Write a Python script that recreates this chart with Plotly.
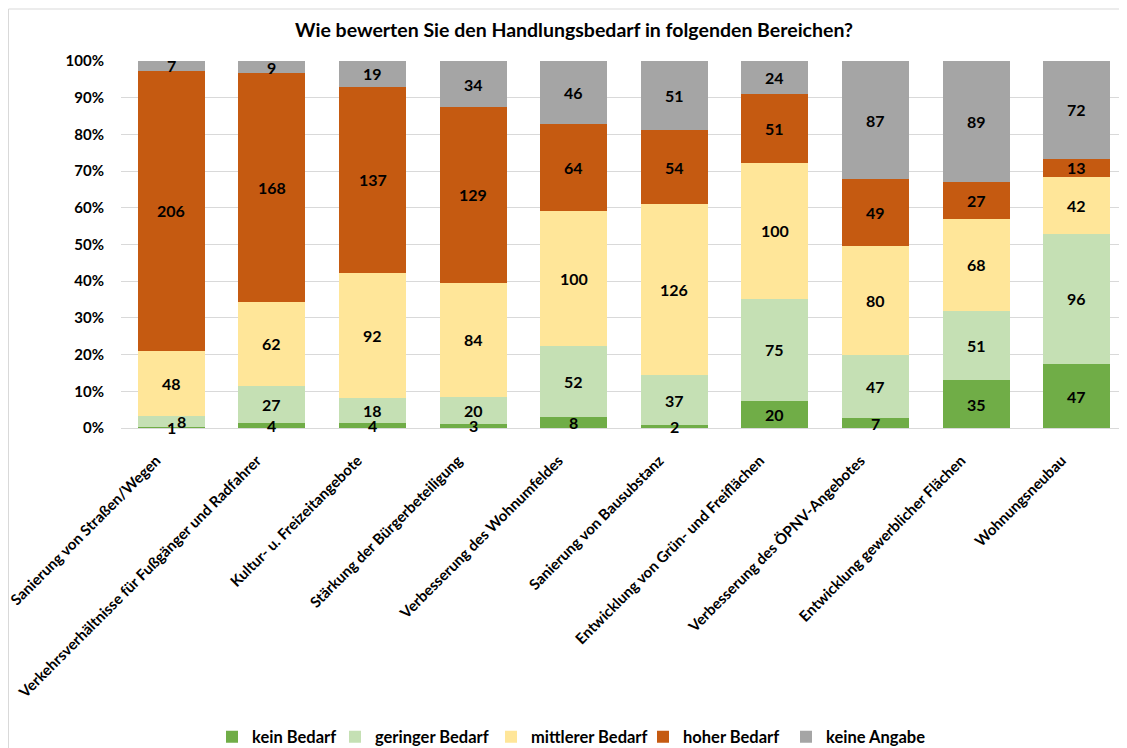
import plotly.graph_objects as go

categories = [
    "Sanierung von Straßen/Wegen",
    "Verkehrsverhältnisse für Fußgänger und Radfahrer",
    "Kultur- u. Freizeitangebote",
    "Stärkung der Bürgerbeteiligung",
    "Verbesserung des Wohnumfeldes",
    "Sanierung von Bausubstanz",
    "Entwicklung von Grün- und Freiflächen",
    "Verbesserung des ÖPNV-Angebotes",
    "Entwicklung gewerblicher Flächen",
    "Wohnungsneubau",
]
kein_bedarf = [1, 4, 4, 3, 8, 2, 20, 7, 35, 47]
geringer_bedarf = [8, 27, 18, 20, 52, 37, 75, 47, 51, 96]
mittlerer_bedarf = [48, 62, 92, 84, 100, 126, 100, 80, 68, 42]
hoher_bedarf = [206, 168, 137, 129, 64, 54, 51, 49, 27, 13]
keine_angabe = [7, 9, 19, 34, 46, 51, 24, 87, 89, 72]
series_names = ["kein Bedarf", "geringer Bedarf", "mittlerer Bedarf", "hoher Bedarf", "keine Angabe"]
y_ticks = [0, 10, 20, 30, 40, 50, 60, 70, 80, 90, 100]

series = [kein_bedarf, geringer_bedarf, mittlerer_bedarf, hoher_bedarf, keine_angabe]
colors = ["#70AD47", "#C5E0B4", "#FFE699", "#C55A11", "#A5A5A5"]
legend_widths = [78, 111, 107, 98, 108]
FONT = "Lato"

# figure is placed by the page 8px from the top-left corner
W, H = 1119, 740
L, T, B, R = 113, 53, 320, 0
PW, PH = W - L - R, H - T - B

fig = go.Figure()
for name, vals, col, lw in zip(series_names, series, colors, legend_widths):
    fig.add_trace(go.Bar(
        x=categories, y=vals, name=name,
        marker=dict(color=col, line=dict(width=0)),
        legendwidth=lw,
        hoverinfo="x+y+name",
    ))

# data labels as annotations at segment midpoints
totals = [sum(s[i] for s in series) for i in range(len(categories))]
shifts = {(0, 1): (10, 0)}
annotations = []
for i, cat in enumerate(categories):
    cum = 0
    for k, vals in enumerate(series):
        v = vals[i]
        mid = (cum + v / 2) / totals[i] * 100
        cum += v
        xs, ys = shifts.get((i, k), (0, 0))
        annotations.append(dict(
            x=cat, y=mid, xref="x", yref="y", text=str(v),
            showarrow=False, xshift=xs, yshift=ys,
            font=dict(family=FONT, size=16, color="#000000", weight="bold"),
        ))

fig.update_layout(
    width=W, height=H,
    barmode="stack", barnorm="percent", bargap=0.335,
    plot_bgcolor="white", paper_bgcolor="white",
    margin=dict(l=L, r=R, t=T, b=B, autoexpand=False),
    title=dict(text="Wie bewerten Sie den Handlungsbedarf in folgenden Bereichen?",
               x=566 / W, xref="container", xanchor="center",
               y=1 - 22 / H, yref="container", yanchor="middle",
               font=dict(family=FONT, size=19.5, color="#000000", weight="bold")),
    font=dict(family=FONT, color="#000000"),
    legend=dict(orientation="h", x=(204 - L) / PW, xanchor="left",
                y=(PH - (729 - T)) / PH, yanchor="middle",
                font=dict(family=FONT, size=16.5, color="#000000", weight="bold"),
                itemwidth=30, traceorder="normal"),
    annotations=annotations,
    showlegend=True,
)
fig.update_yaxes(range=[0, 100], tickvals=y_ticks, ticktext=[f"{t}%" for t in y_ticks],
                 showgrid=True, gridcolor="#D9D9D9", gridwidth=1, zeroline=False,
                 showline=False, ticks="", ticklabelstandoff=16,
                 tickfont=dict(family=FONT, size=15, color="#000000", weight="bold"), fixedrange=True)
fig.update_xaxes(tickangle=-45, showline=True, linecolor="#D9D9D9", linewidth=1, ticks="",
                 ticklabelshift=-15, ticklabelstandoff=17,
                 tickfont=dict(family=FONT, size=15, color="#000000", weight="bold"), fixedrange=True)

# thin light border around chart area
fig.add_shape(type="rect", xref="paper", yref="paper",
              x0=(0.5 - L) / PW, x1=1.02, y0=-1.2, y1=(PH + T - 1) / PH,
              line=dict(color="#D9D9D9", width=1), fillcolor="rgba(0,0,0,0)", layer="below")

fig.write_html("out.html")
